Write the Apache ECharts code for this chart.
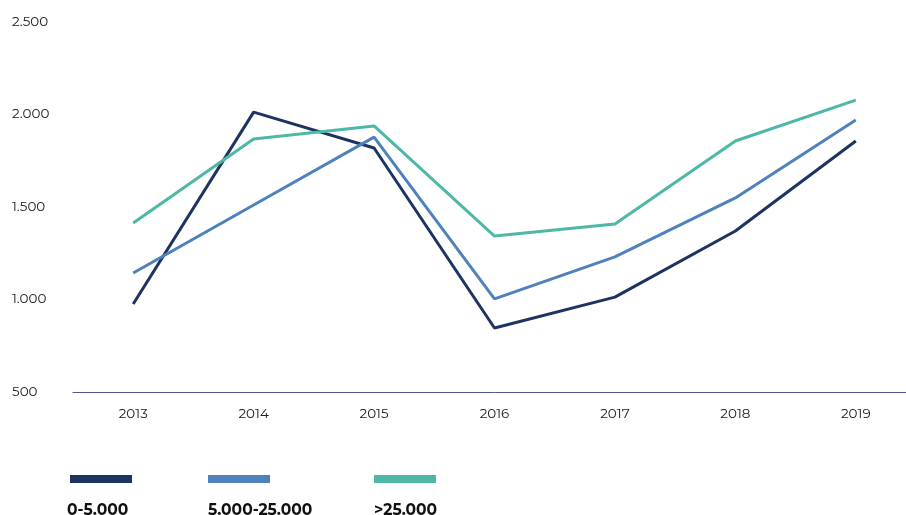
<!DOCTYPE html>
<html><head><meta charset="utf-8">
<script src="https://cdn.jsdelivr.net/npm/echarts@6/dist/echarts.min.js"></script>
<style>html,body{margin:0;padding:0;background:#fff;overflow:hidden;width:906px;height:515px}#c{width:916px;height:515px}</style>
</head><body><div id="c"></div>
<script>
var years = ['2013','2014','2015','2016','2017','2018','2019'];
var seriesNames = ['0-5.000','5.000-25.000','>25.000'];
var s1 = [976, 2013, 1819, 846, 1013, 1370, 1857];
var s2 = [1143, 1511, 1878, 1003, 1230, 1549, 1970];
var s3 = [1414, 1868, 1938, 1343, 1408, 1857, 2078];
var colors = ['#1d3461', '#4f81bd', '#4db8a5'];
var font = 'Montserrat, "Noto Sans", sans-serif';
var chart = echarts.init(document.getElementById('c'));
function fmt(v){ return String(v).replace(/\B(?=(\d{3})+(?!\d))/g,'.'); }
var legendX = [70, 208, 374];
var textX = [67, 208, 374];
var graphics = [];
seriesNames.forEach(function(n,i){
  graphics.push({type:'rect', left:legendX[i], top:475, shape:{width:62,height:8}, style:{fill:colors[i]}});
  graphics.push({type:'text', left:textX[i], top:502, style:{text:n, font:'bold 15.5px '+font, fill:'#111'}});
});
chart.setOption({
  animation:false,
  grid:{left:73, right:0, top:22, bottom:123},
  xAxis:{type:'category', data:years, boundaryGap:true,
    axisLine:{lineStyle:{color:'#4a5a8a', width:1}}, axisTick:{show:false},
    axisLabel:{color:'#222', fontSize:13.5, fontFamily:font, margin:15}},
  yAxis:{type:'value', min:500, max:2500, interval:500,
    splitLine:{show:false}, axisLine:{show:false}, axisTick:{show:false},
    axisLabel:{color:'#222', fontSize:13.5, fontFamily:font, align:'left', margin:61, formatter:fmt}},
  series:[
    {name:seriesNames[0], type:'line', data:s1, symbol:'none', lineStyle:{color:colors[0], width:3}, itemStyle:{color:colors[0]}},
    {name:seriesNames[1], type:'line', data:s2, symbol:'none', lineStyle:{color:colors[1], width:3}, itemStyle:{color:colors[1]}},
    {name:seriesNames[2], type:'line', data:s3, symbol:'none', lineStyle:{color:colors[2], width:3}, itemStyle:{color:colors[2]}}
  ],
  graphic:graphics
});
</script></body></html>
